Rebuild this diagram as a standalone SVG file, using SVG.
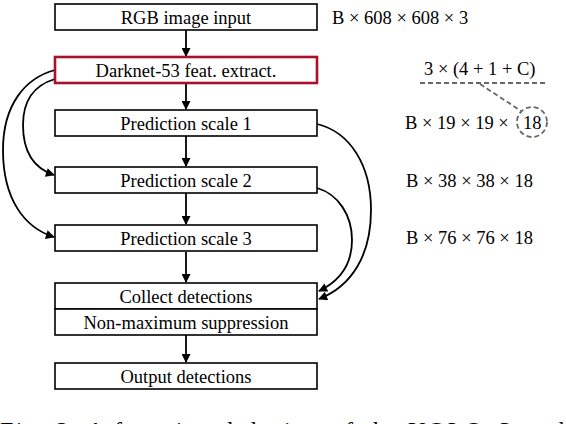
<svg xmlns="http://www.w3.org/2000/svg" width="566" height="424" viewBox="0 0 566 424">
<style>
.box{fill:#fff;stroke:#000;stroke-width:1.6}
.red{fill:#fff;stroke:#a8102c;stroke-width:2.6}
.t{font-family:"Liberation Serif","DejaVu Serif",serif;font-size:18.5px;text-anchor:middle;fill:#000}
.s{font-family:"Liberation Serif","DejaVu Serif",serif;font-size:18.5px;fill:#000}
.c{fill:none;stroke:#000;stroke-width:1.8}
.d{fill:none;stroke:#666;stroke-width:1.8;stroke-dasharray:5,3}
</style>
<defs>
<marker id="ah" viewBox="0 0 10 10" refX="9" refY="5" markerWidth="10" markerHeight="9" markerUnits="userSpaceOnUse" orient="auto">
<path d="M0,0 L10,5 L0,10 z" fill="#000"/>
</marker>
</defs>
<g id="connectors">
<line class="c" x1="186" y1="30" x2="186" y2="56" marker-end="url(#ah)"/>
<line class="c" x1="186" y1="84" x2="186" y2="109" marker-end="url(#ah)"/>
<line class="c" x1="186" y1="136" x2="186" y2="166" marker-end="url(#ah)"/>
<line class="c" x1="186" y1="193" x2="186" y2="224" marker-end="url(#ah)"/>
<line class="c" x1="186" y1="252" x2="186" y2="282" marker-end="url(#ah)"/>
<line class="c" x1="186" y1="335" x2="186" y2="362" marker-end="url(#ah)"/>
<path class="c" d="M55,70 C25,78 3,105 3,150 C3,200 25,228 54,237" marker-end="url(#ah)"/>
<path class="c" d="M55,79 C35,85 23,100 23,125 C23,150 33,168 54,175" marker-end="url(#ah)"/>
<path class="c" d="M317,124 C350,132 371,165 371,210 C371,255 352,286 319,299" marker-end="url(#ah)"/>
<path class="c" d="M317,188 C338,194 352,215 352,240 C352,263 342,280 319,291" marker-end="url(#ah)"/>
</g>
<g id="n-input"><rect class="box" x="55" y="4" width="262" height="26"/><text class="t" x="186" y="24">RGB image input</text></g>
<g id="n-darknet"><rect class="red" x="55" y="57" width="262" height="26"/><text class="t" x="186" y="77">Darknet-53 feat. extract.</text></g>
<g id="n-scale1"><rect class="box" x="55" y="110" width="262" height="26"/><text class="t" x="186" y="130">Prediction scale 1</text></g>
<g id="n-scale2"><rect class="box" x="55" y="167" width="262" height="26"/><text class="t" x="186" y="187">Prediction scale 2</text></g>
<g id="n-scale3"><rect class="box" x="55" y="225" width="262" height="26"/><text class="t" x="186" y="245">Prediction scale 3</text></g>
<g id="n-collect"><rect class="box" x="55" y="283" width="262" height="26"/><text class="t" x="186" y="303">Collect detections</text></g>
<g id="n-nms"><rect class="box" x="55" y="309" width="262" height="26"/><text class="t" x="186" y="329">Non-maximum suppression</text></g>
<g id="n-output"><rect class="box" x="55" y="363" width="262" height="26"/><text class="t" x="186" y="383">Output detections</text></g>
<g id="labels">
<text class="s" x="332" y="24">B × 608 × 608 × 3</text>
<text class="s" x="424" y="75">3 × (4 + 1 + C)</text>
<line class="d" x1="420" y1="83" x2="545" y2="83"/>
<line class="d" x1="480" y1="84" x2="521" y2="111"/>
<circle class="d" cx="532" cy="122" r="15"/>
<text class="s" x="405" y="129">B × 19 × 19 ×<tspan x="523">18</tspan></text>
<text class="s" x="406" y="187">B × 38 × 38 × 18</text>
<text class="s" x="406" y="244">B × 76 × 76 × 18</text>
<text x="0" y="438" style="font-family:'Liberation Serif',serif;font-size:24px;fill:#000" textLength="580">Fig. 2: A functional design of the YOLOv3 archi</text>
</g>
</svg>
